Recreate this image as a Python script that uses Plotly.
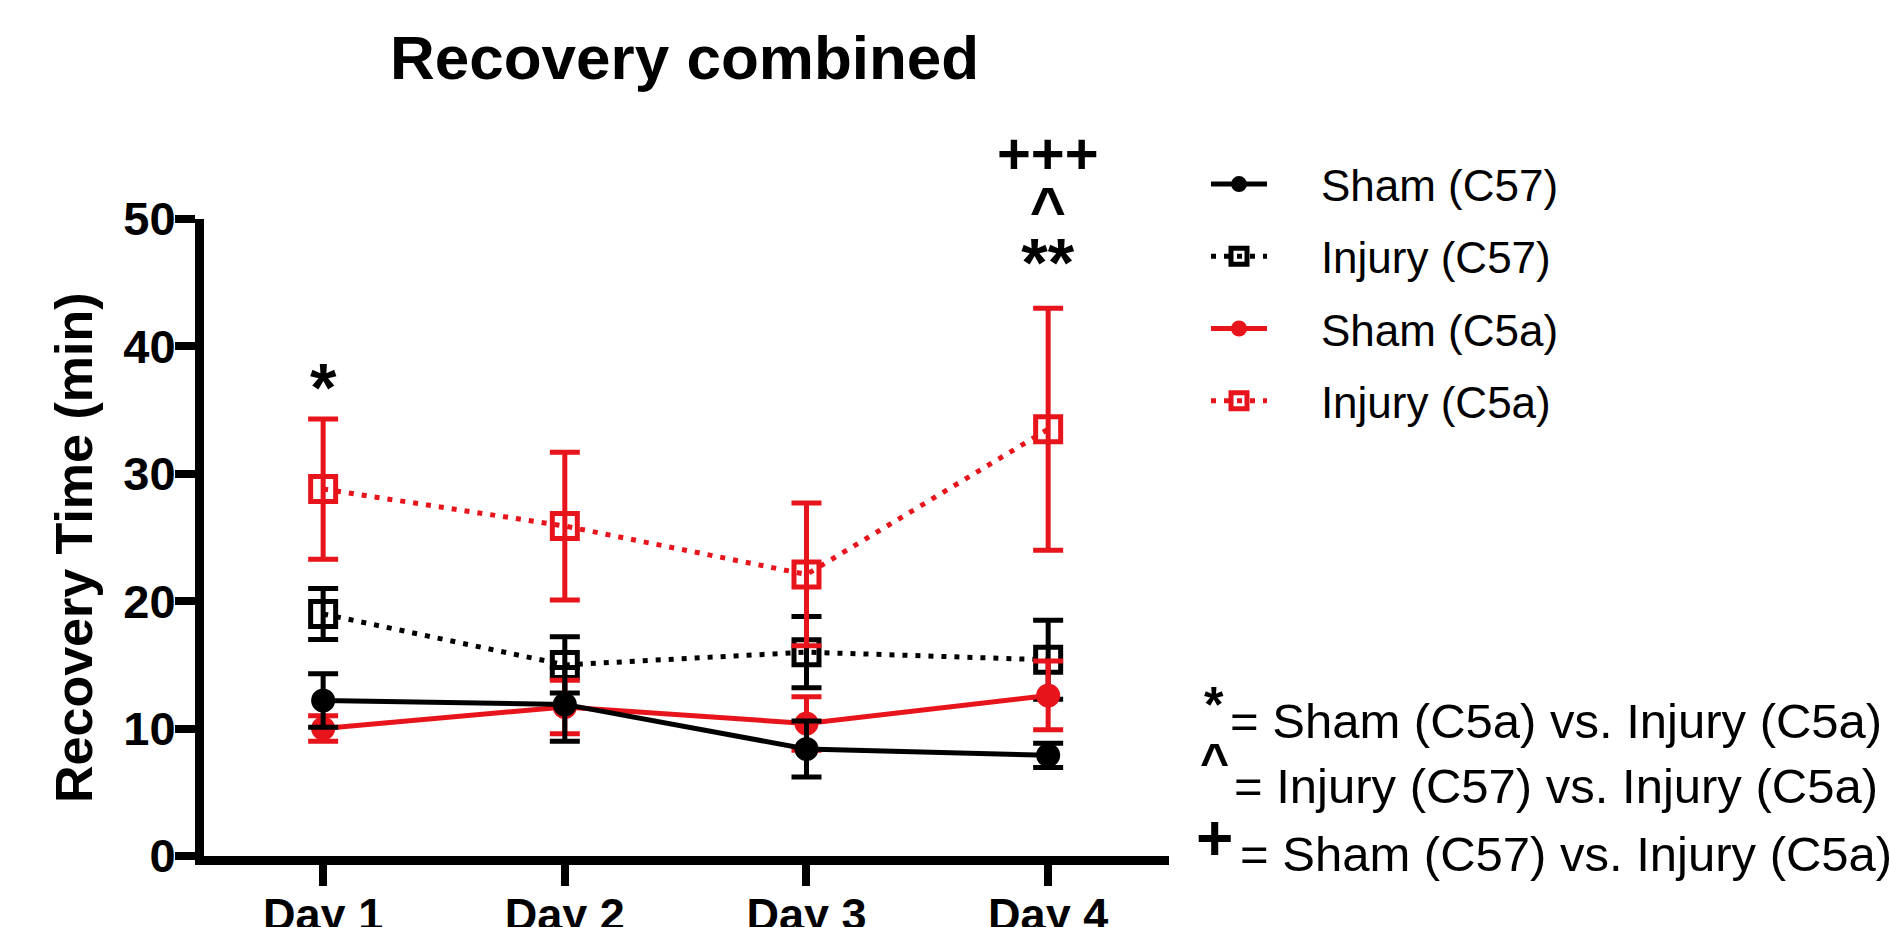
import plotly.graph_objects as go

# Recovery time (min), mean and SEM per group for each test day
days = ["Day 1", "Day 2", "Day 3", "Day 4"]
day_pos = [1, 2, 3, 4]

sham_c57_mean = [12.2, 11.9, 8.4, 7.9]
sham_c57_sem = [2.1, 2.9, 2.2, 0.95]

injury_c57_mean = [19.0, 15.0, 16.0, 15.4]
injury_c57_sem = [2.0, 2.2, 2.8, 3.1]

sham_c5a_mean = [10.0, 11.7, 10.4, 12.6]
sham_c5a_sem = [1.0, 2.1, 2.1, 2.7]

injury_c5a_mean = [28.8, 25.9, 22.1, 33.5]
injury_c5a_sem = [5.5, 5.8, 5.6, 9.5]

y_ticks = [0, 10, 20, 30, 40, 50]

# significance marks: symbol and its meaning
sig_keys = ["*", "^", "+"]
sig_texts = [
    "= Sham (C5a) vs. Injury (C5a)",
    "= Injury (C57) vs. Injury (C5a)",
    "= Sham (C57) vs. Injury (C5a)",
]

BLACK = "#000000"
RED = "#e8141b"
W, H = 1889, 927
NBSP = "\u00a0"


def px_x(x):
    return x / W


def px_y(y):
    return (H - y) / H


def group_trace(name, mean, sem, color, dotted, rank):
    return go.Scatter(
        x=day_pos,
        y=mean,
        name=NBSP * 4 + name,
        mode="lines+markers",
        legendrank=rank,
        legendgroup=name,
        line=dict(color=color, width=5,
                  dash="5px,8px" if dotted else "solid"),
        marker=dict(
            symbol="square-open" if dotted else "circle",
            size=25 if dotted else 24,
            color=color,
            line=dict(color=color, width=5 if dotted else 0),
        ),
        error_y=dict(type="data", array=sem, visible=True,
                     color=color, thickness=5, width=15),
        cliponaxis=False,
    )


fig = go.Figure()
fig.add_trace(group_trace("Injury (C57)", injury_c57_mean, injury_c57_sem, BLACK, True, 2))
fig.add_trace(group_trace("Sham (C5a)", sham_c5a_mean, sham_c5a_sem, RED, False, 3))
fig.add_trace(group_trace("Sham (C57)", sham_c57_mean, sham_c57_sem, BLACK, False, 1))
fig.add_trace(group_trace("Injury (C5a)", injury_c5a_mean, injury_c5a_sem, RED, True, 4))

annotations = []

# chart title
annotations.append(dict(
    text="<b>Recovery combined</b>", x=px_x(684), y=px_y(58),
    xref="paper", yref="paper", xanchor="center", yanchor="middle",
    showarrow=False, font=dict(size=62, color=BLACK),
))

# y axis title
annotations.append(dict(
    text="<b>Recovery Time (min)</b>", x=px_x(74), y=px_y(548),
    xref="paper", yref="paper", xanchor="center", yanchor="middle",
    textangle=-90, showarrow=False, font=dict(size=52, color=BLACK),
))

# significance mark above Day 1
annotations.append(dict(
    text="<b>*</b>", x=1, y=px_y(387),
    xref="x", yref="paper", xanchor="center", yanchor="middle",
    showarrow=False, font=dict(size=68, color=BLACK),
))

# stacked significance marks above Day 4
annotations.append(dict(
    text=("<b><span style='font-size:58px'>+++</span></b><br>"
          "<b><span style='font-size:62px'>^</span></b><br>"
          "<b><span style='font-size:68px'>**</span></b>"),
    x=4, y=px_y(119),
    xref="x", yref="paper", xanchor="center", yanchor="top",
    showarrow=False, font=dict(size=43, color=BLACK),
))

# key to the significance marks
key_rows = [721, 786, 854]
key_text_x = [1228, 1232, 1238]
key_sym_y = [705, 762, 838]
key_sym_size = [50, 50, 64]
for sym, txt, ypx, tx, sy, ss in zip(sig_keys, sig_texts, key_rows, key_text_x,
                                     key_sym_y, key_sym_size):
    annotations.append(dict(
        text="<b>%s</b>" % sym, x=px_x(1214), y=px_y(sy),
        xref="paper", yref="paper", xanchor="center", yanchor="middle",
        showarrow=False, font=dict(size=ss, color=BLACK),
    ))
    annotations.append(dict(
        text=txt, x=px_x(tx), y=px_y(ypx),
        xref="paper", yref="paper", xanchor="left", yanchor="middle",
        showarrow=False, font=dict(size=49, color=BLACK),
    ))

x_left, x_right = 204, 1169
fig.update_layout(
    width=W, height=H,
    margin=dict(l=0, r=0, t=0, b=0),
    paper_bgcolor="white",
    plot_bgcolor="white",
    font=dict(family="Liberation Sans, Arial, sans-serif", color=BLACK),
    annotations=annotations,
    showlegend=True,
    legend=dict(
        x=px_x(1206), y=px_y(149), xanchor="left", yanchor="top",
        font=dict(size=44, color=BLACK),
        itemwidth=56,
        tracegroupgap=12,
        bgcolor="rgba(0,0,0,0)",
    ),
    xaxis=dict(
        domain=[px_x(x_left), px_x(x_right)],
        range=[0.507, 4.5],
        tickmode="array", tickvals=day_pos,
        ticktext=["<b>%s</b>" % d for d in days],
        tickfont=dict(size=45, color=BLACK),
        ticks="outside", ticklen=21, tickwidth=8, tickcolor=BLACK,
        ticklabelstandoff=-10,
        showline=True, linewidth=9, linecolor=BLACK,
        showgrid=False, zeroline=False,
        automargin=False,
        anchor="y",
    ),
    yaxis=dict(
        domain=[px_y(856), px_y(219)],
        range=[0, 50],
        tickmode="array", tickvals=y_ticks,
        ticktext=["<b>%d</b>" % v for v in y_ticks],
        tickfont=dict(size=47, color=BLACK),
        ticks="outside", ticklen=20, tickwidth=8, tickcolor=BLACK,
        ticklabelstandoff=-10,
        showline=True, linewidth=9, linecolor=BLACK,
        showgrid=False, zeroline=False,
        automargin=False,
        anchor="x",
    ),
)

fig.write_html("out.html")
